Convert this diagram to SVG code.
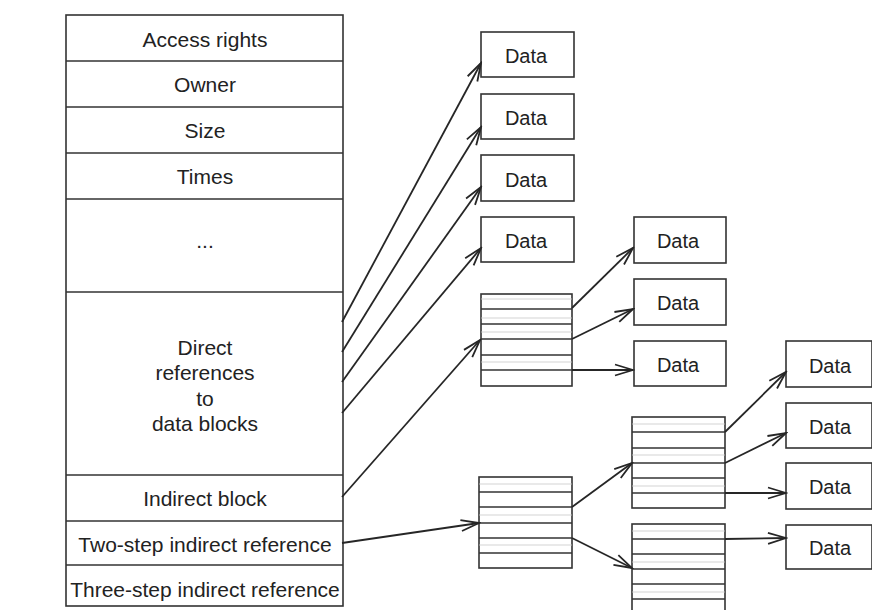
<svg xmlns="http://www.w3.org/2000/svg" width="872" height="610" viewBox="0 0 872 610">
  <defs>
    <marker id="arrow" markerUnits="userSpaceOnUse" markerWidth="22" markerHeight="14" viewBox="0 0 22 14" refX="20" refY="7" orient="auto">
      <path d="M2,1.5 L20,7 L2,12.5" fill="none" stroke="#262626" stroke-width="1.8"/>
    </marker>
  </defs>
  <style>
    .box { fill: #ffffff; stroke: #333333; stroke-width: 1.6; }
    .sep { stroke: #333333; stroke-width: 1.4; }
    .faint { stroke: #c8c8c8; stroke-width: 0.8; }
    .lbl { font-family: "Liberation Sans", Arial, sans-serif; font-size: 21px; fill: #222222; text-anchor: middle; }
    .data { font-family: "Liberation Sans", Arial, sans-serif; font-size: 20px; fill: #222222; text-anchor: middle; }
    .conn { fill: none; stroke: #262626; stroke-width: 1.8; marker-end: url(#arrow); }
  </style>
  <rect width="872" height="610" fill="#ffffff"/>

  <!-- i-node table -->
  <g id="inode">
    <rect class="box" x="66" y="15" width="277" height="591"/>
    <line class="sep" x1="66" y1="61" x2="343" y2="61"/>
    <line class="sep" x1="66" y1="107" x2="343" y2="107"/>
    <line class="sep" x1="66" y1="153" x2="343" y2="153"/>
    <line class="sep" x1="66" y1="199" x2="343" y2="199"/>
    <line class="sep" x1="66" y1="292" x2="343" y2="292"/>
    <line class="sep" x1="66" y1="475" x2="343" y2="475"/>
    <line class="sep" x1="66" y1="521" x2="343" y2="521"/>
    <line class="sep" x1="66" y1="565" x2="343" y2="565"/>
    <text class="lbl" x="205" y="47">Access rights</text>
    <text class="lbl" x="205" y="92">Owner</text>
    <text class="lbl" x="205" y="138">Size</text>
    <text class="lbl" x="205" y="184">Times</text>
    <text class="lbl" x="205" y="248">...</text>
    <text class="lbl" x="205" y="355">Direct</text>
    <text class="lbl" x="205" y="380">references</text>
    <text class="lbl" x="205" y="406">to</text>
    <text class="lbl" x="205" y="431">data blocks</text>
    <text class="lbl" x="205" y="506">Indirect block</text>
    <text class="lbl" x="205" y="552">Two-step indirect reference</text>
    <text class="lbl" x="205" y="597">Three-step indirect reference</text>
  </g>

  <!-- direct data blocks -->
  <g id="data-d1"><rect class="box" x="481" y="32" width="93" height="45"/><text class="data" x="526" y="63">Data</text></g>
  <g id="data-d2"><rect class="box" x="481" y="94" width="93" height="45"/><text class="data" x="526" y="125">Data</text></g>
  <g id="data-d3"><rect class="box" x="481" y="155" width="93" height="46"/><text class="data" x="526" y="187">Data</text></g>
  <g id="data-d4"><rect class="box" x="481" y="217" width="93" height="45"/><text class="data" x="526" y="248">Data</text></g>

  <!-- single indirect block and its data -->
  <g id="index-1">
    <rect class="box" x="481" y="294" width="91" height="92"/>
    <line class="faint" x1="481" y1="299" x2="572" y2="299"/>
    <line class="faint" x1="481" y1="318" x2="572" y2="318"/>
    <line class="faint" x1="481" y1="332" x2="572" y2="332"/>
    <line class="faint" x1="481" y1="362" x2="572" y2="362"/>
    <line class="sep" x1="481" y1="309" x2="572" y2="309"/>
    <line class="sep" x1="481" y1="324" x2="572" y2="324"/>
    <line class="sep" x1="481" y1="339" x2="572" y2="339"/>
    <line class="sep" x1="481" y1="355" x2="572" y2="355"/>
    <line class="sep" x1="481" y1="370" x2="572" y2="370"/>
  </g>
  <g id="data-i1"><rect class="box" x="634" y="217" width="92" height="46"/><text class="data" x="678" y="248">Data</text></g>
  <g id="data-i2"><rect class="box" x="634" y="279" width="92" height="46"/><text class="data" x="678" y="310">Data</text></g>
  <g id="data-i3"><rect class="box" x="634" y="341" width="92" height="45"/><text class="data" x="678" y="372">Data</text></g>

  <!-- double indirect: first level -->
  <g id="index-2">
    <rect class="box" x="479" y="477" width="93" height="91"/>
    <line class="faint" x1="479" y1="484" x2="572" y2="484"/>
    <line class="faint" x1="479" y1="515" x2="572" y2="515"/>
    <line class="faint" x1="479" y1="545" x2="572" y2="545"/>
    <line class="sep" x1="479" y1="492" x2="572" y2="492"/>
    <line class="sep" x1="479" y1="507" x2="572" y2="507"/>
    <line class="sep" x1="479" y1="523" x2="572" y2="523"/>
    <line class="sep" x1="479" y1="538" x2="572" y2="538"/>
    <line class="sep" x1="479" y1="553" x2="572" y2="553"/>
  </g>

  <!-- double indirect: second level -->
  <g id="index-3">
    <rect class="box" x="632" y="417" width="93" height="91"/>
    <line class="faint" x1="632" y1="424" x2="725" y2="424"/>
    <line class="faint" x1="632" y1="455" x2="725" y2="455"/>
    <line class="faint" x1="632" y1="486" x2="725" y2="486"/>
    <line class="sep" x1="632" y1="432" x2="725" y2="432"/>
    <line class="sep" x1="632" y1="448" x2="725" y2="448"/>
    <line class="sep" x1="632" y1="463" x2="725" y2="463"/>
    <line class="sep" x1="632" y1="478" x2="725" y2="478"/>
    <line class="sep" x1="632" y1="493" x2="725" y2="493"/>
  </g>
  <g id="index-4">
    <rect class="box" x="632" y="524" width="93" height="92"/>
    <line class="faint" x1="632" y1="531" x2="725" y2="531"/>
    <line class="faint" x1="632" y1="562" x2="725" y2="562"/>
    <line class="faint" x1="632" y1="592" x2="725" y2="592"/>
    <line class="sep" x1="632" y1="539" x2="725" y2="539"/>
    <line class="sep" x1="632" y1="554" x2="725" y2="554"/>
    <line class="sep" x1="632" y1="569" x2="725" y2="569"/>
    <line class="sep" x1="632" y1="584" x2="725" y2="584"/>
    <line class="sep" x1="632" y1="599" x2="725" y2="599"/>
  </g>

  <!-- double indirect data blocks -->
  <g id="data-e1"><rect class="box" x="786" y="341" width="86" height="46"/><text class="data" x="830" y="373">Data</text></g>
  <g id="data-e2"><rect class="box" x="786" y="403" width="86" height="45"/><text class="data" x="830" y="434">Data</text></g>
  <g id="data-e3"><rect class="box" x="786" y="463" width="86" height="46"/><text class="data" x="830" y="494">Data</text></g>
  <g id="data-e4"><rect class="box" x="786" y="525" width="86" height="44"/><text class="data" x="830" y="555">Data</text></g>

  <!-- pointers -->
  <g id="connectors">
    <line class="conn" x1="342" y1="322" x2="481" y2="63"/>
    <line class="conn" x1="342" y1="352" x2="481" y2="127"/>
    <line class="conn" x1="342" y1="382" x2="481" y2="187"/>
    <line class="conn" x1="342" y1="413" x2="481" y2="248"/>
    <line class="conn" x1="342" y1="497" x2="480" y2="340"/>
    <line class="conn" x1="342" y1="543" x2="479" y2="523"/>
    <line class="conn" x1="572" y1="308" x2="633" y2="248"/>
    <line class="conn" x1="572" y1="339" x2="633" y2="309"/>
    <line class="conn" x1="572" y1="370" x2="633" y2="370"/>
    <line class="conn" x1="572" y1="507" x2="632" y2="463"/>
    <line class="conn" x1="572" y1="538" x2="632" y2="568"/>
    <line class="conn" x1="725" y1="432" x2="786" y2="372"/>
    <line class="conn" x1="725" y1="463" x2="786" y2="433"/>
    <line class="conn" x1="725" y1="493" x2="786" y2="493"/>
    <line class="conn" x1="725" y1="539" x2="786" y2="538"/>
  </g>
</svg>
